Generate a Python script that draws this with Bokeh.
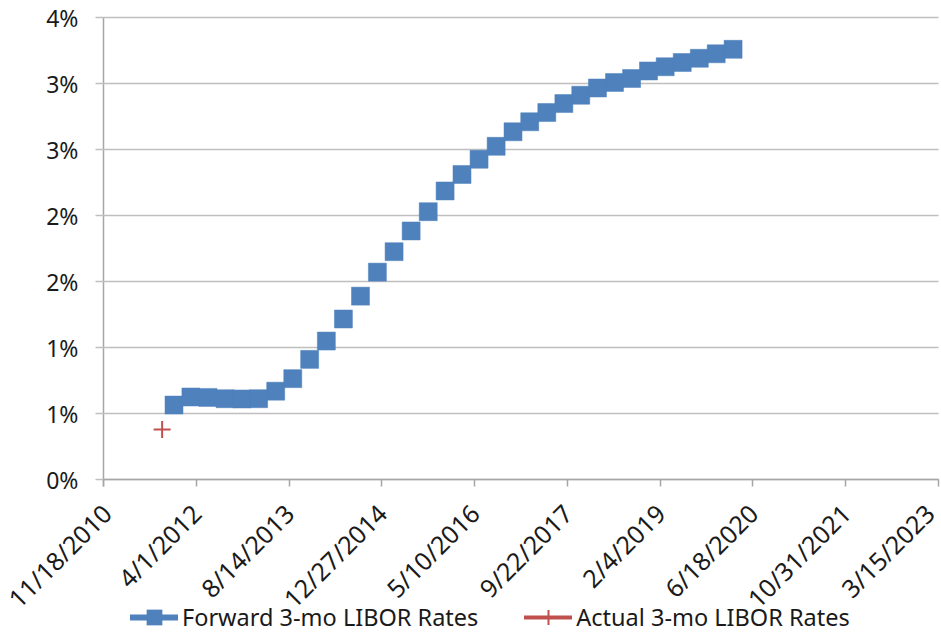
import math
import pandas as pd
from bokeh.plotting import figure
from bokeh.models import (ColumnDataSource, Range1d, FixedTicker, Legend, LegendItem)
from bokeh.embed import file_html
from bokeh.resources import INLINE

# ---- data ----
forward_dates = [
    "2011-12-03", "2012-03-03", "2012-06-03", "2012-09-03", "2012-12-03", "2013-03-03",
    "2013-06-03", "2013-09-03", "2013-12-03", "2014-03-03", "2014-06-03", "2014-09-03",
    "2014-12-03", "2015-03-03", "2015-06-03", "2015-09-03", "2015-12-03", "2016-03-03",
    "2016-06-03", "2016-09-03", "2016-12-03", "2017-03-03", "2017-06-03", "2017-09-03",
    "2017-12-03", "2018-03-03", "2018-06-03", "2018-09-03", "2018-12-03", "2019-03-03",
    "2019-06-03", "2019-09-03", "2019-12-03", "2020-03-03",
]
forward_rates = [
    0.564, 0.625, 0.622, 0.612, 0.610, 0.612, 0.669, 0.764, 0.910, 1.049,
    1.216, 1.389, 1.571, 1.726, 1.883, 2.029, 2.186, 2.311, 2.426, 2.524,
    2.634, 2.710, 2.780, 2.848, 2.911, 2.966, 3.008, 3.038, 3.095, 3.127,
    3.159, 3.191, 3.225, 3.259,
]
actual_dates = ["2011-09-30"]
actual_rates = [0.379]

x_tick_labels = ["11/18/2010", "4/1/2012", "8/14/2013", "12/27/2014", "5/10/2016",
                 "9/22/2017", "2/4/2019", "6/18/2020", "10/31/2021", "3/15/2023"]
y_ticks = [0.0, 0.5, 1.0, 1.5, 2.0, 2.5, 3.0, 3.5]
y_tick_labels = ["0%", "1%", "1%", "2%", "2%", "3%", "3%", "4%"]

series_names = ["Forward 3-mo LIBOR Rates", "Actual 3-mo LIBOR Rates"]

BLUE = "#4F81BD"
RED = "#C0504D"
FONT = "Noto Sans"
TEXT = "#1a1a1a"
GRID = "#BFBFBF"
AXIS = "#A6A6A6"

# layout (pixels) - the frame fills the whole canvas, the plot box sits inside it
W, H = 941, 632
BOX_LEFT, BOX_RIGHT, BOX_TOP, BOX_BOTTOM = 103, 938, 17, 479
Y_MAX = 3.5
X_TICK_LEN = 7


def to_ms(dts, fmt=None):
    s = pd.to_datetime(pd.Series(dts), format=fmt)
    return [float(v.value // 10**6) for v in s]


tick_ms = to_ms(x_tick_labels, "%m/%d/%Y")
t0, t1 = tick_ms[0], tick_ms[-1]
ms_per_px = (t1 - t0) / (BOX_RIGHT - BOX_LEFT)
px_per_unit = (BOX_BOTTOM - BOX_TOP) / Y_MAX

x_range = Range1d(t0 - BOX_LEFT * ms_per_px, t1 + (W - BOX_RIGHT) * ms_per_px)
y_range = Range1d(-(H - BOX_BOTTOM) / px_per_unit, Y_MAX + BOX_TOP / px_per_unit)

fwd_src = ColumnDataSource(dict(x=pd.to_datetime(pd.Series(forward_dates)), y=forward_rates))
act_src = ColumnDataSource(dict(x=pd.to_datetime(pd.Series(actual_dates)), y=actual_rates))

p = figure(width=W, height=H, output_backend="svg", toolbar_location=None,
           x_axis_type="datetime", x_range=x_range, y_range=y_range,
           min_border_left=0, min_border_right=0, min_border_top=0, min_border_bottom=0)
p.outline_line_color = None
p.background_fill_color = "white"
p.border_fill_color = "white"
p.xgrid.visible = False
p.ygrid.visible = False

# y axis pinned at the first date; its inner ticks act as horizontal gridlines
ya = p.yaxis[0]
ya.fixed_location = t0
ya.bounds = (-X_TICK_LEN / px_per_unit, Y_MAX)
ya.level = "underlay"
ya.ticker = FixedTicker(ticks=y_ticks)
ya.major_label_overrides = {t: l for t, l in zip(y_ticks, y_tick_labels)}
ya.axis_line_color = AXIS
ya.axis_line_width = 1.5
ya.major_tick_line_color = GRID
ya.major_tick_line_width = 1.5
ya.major_tick_in = BOX_RIGHT - BOX_LEFT
ya.major_tick_out = 8
ya.minor_tick_line_color = None
ya.major_label_standoff = 17
ya.major_label_text_font = FONT
ya.major_label_text_font_size = "23px"
ya.major_label_text_color = TEXT

# x axis pinned to the 0% line
xa = p.xaxis[0]
xa.fixed_location = 0
xa.bounds = (t0, t1)
xa.ticker = FixedTicker(ticks=tick_ms)
xa.major_label_overrides = {t: l for t, l in zip(tick_ms, x_tick_labels)}
xa.axis_line_color = AXIS
xa.axis_line_width = 1.5
xa.major_tick_line_color = AXIS
xa.major_tick_line_width = 1.5
xa.major_tick_in = 0
xa.major_tick_out = X_TICK_LEN
xa.minor_tick_line_color = None
xa.major_label_orientation = math.pi / 4
xa.major_label_standoff = 22
xa.major_label_text_font = FONT
xa.major_label_text_font_size = "25px"
xa.major_label_text_color = TEXT

# data
fwd = p.scatter("x", "y", source=fwd_src, marker="square", size=18,
                fill_color=BLUE, line_color=BLUE, line_width=0.5)
act = p.scatter("x", "y", source=act_src, marker="cross", size=17,
                line_color=RED, line_width=2)

# series lines: shown only as legend glyphs (hidden in the plot, as in the reference)
fwd_line = p.line("x", "y", source=fwd_src, line_color=BLUE, line_width=6,
                  line_cap="round", visible=False)
act_line = p.line("x", "y", source=act_src, line_color=RED, line_width=4,
                  line_cap="round", visible=False)

legend = Legend(items=[LegendItem(label=series_names[0], renderers=[fwd_line, fwd]),
                       LegendItem(label=series_names[1], renderers=[act_line, act])],
                location=(130, -4), orientation="horizontal",
                padding=0, margin=0, spacing=46, border_line_color=None,
                background_fill_alpha=0, inactive_fill_alpha=0,
                glyph_width=48, glyph_height=38,
                label_standoff=4, label_text_font=FONT, label_text_font_size="23.5px",
                label_text_color=TEXT)
p.add_layout(legend, "center")

open("out.html", "w").write(file_html(p, INLINE))
